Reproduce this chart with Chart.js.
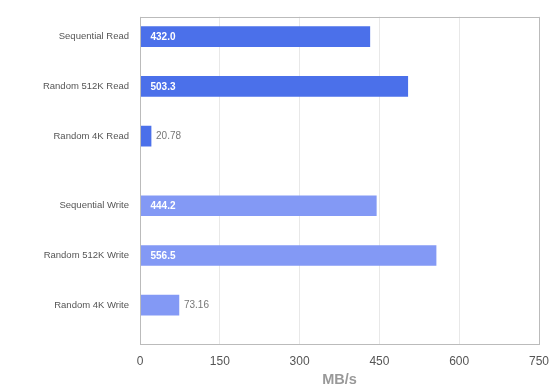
<!DOCTYPE html>
<html>
<head>
<meta charset="utf-8">
<script src="https://cdn.jsdelivr.net/npm/chart.js@4.4.0/dist/chart.umd.min.js"></script>
<style>
  html, body { margin: 0; padding: 0; background: #fff; }
  #wrap { width: 560px; height: 390px; }
</style>
</head>
<body>
<div id="wrap"><canvas id="speedChart"></canvas></div>
<script>
const labels = ['Sequential Read', 'Random 512K Read', 'Random 4K Read', 'Sequential Write', 'Random 512K Write', 'Random 4K Write'];
const groups = ['read', 'read', 'read', 'write', 'write', 'write'];
const speeds = [432.0, 503.3, 20.78, 444.2, 556.5, 73.16];
const speedText = ['432.0', '503.3', '20.78', '444.2', '556.5', '73.16'];
const xTicks = [0, 150, 300, 450, 600, 750];

const groupColor = { read: '#4b70ea', write: '#8399f5' };
const FONT = '"Liberation Sans", Arial, Helvetica, sans-serif';

// rows sit one unit apart, with a little extra room where the group changes
let shift = 0;
const rowPos = labels.map((l, i) => {
    if (i > 0 && groups[i] !== groups[i - 1]) shift += 0.4;
    return i + shift;
});

const barLabels = {
    id: 'barLabels',
    afterDatasetsDraw(chart) {
        const ctx = chart.ctx;
        const meta = chart.getDatasetMeta(0);
        ctx.save();
        ctx.textBaseline = 'middle';
        ctx.textAlign = 'left';
        meta.data.forEach((bar, i) => {
            if (bar.x - bar.base > 60) {
                ctx.font = 'bold 10px ' + FONT;
                ctx.fillStyle = '#ffffff';
                ctx.fillText(speedText[i], bar.base + 10, bar.y + 0.5);
            } else {
                ctx.font = '10px ' + FONT;
                ctx.fillStyle = '#777777';
                ctx.fillText(speedText[i], bar.x + 5, bar.y + 0.5);
            }
        });
        ctx.restore();
    }
};

const plotBox = {
    id: 'plotBox',
    afterDraw(chart) {
        const a = chart.chartArea;
        const ctx = chart.ctx;
        ctx.save();
        ctx.strokeStyle = '#bbbbbb';
        ctx.lineWidth = 1;
        ctx.strokeRect(Math.round(a.left) + 0.5, Math.round(a.top) + 0.5,
            Math.round(a.right - a.left), Math.round(a.bottom - a.top));
        ctx.restore();
    }
};

new Chart(document.getElementById('speedChart'), {
    type: 'bar',
    data: {
        datasets: [{
            data: rowPos.map((y, i) => ({ x: speeds[i], y: y })),
            backgroundColor: groups.map(g => groupColor[g]),
            barThickness: 20,
            borderWidth: 0
        }]
    },
    options: {
        indexAxis: 'y',
        responsive: true,
        maintainAspectRatio: false,
        animation: false,
        layout: { padding: { top: 15, right: 21, bottom: 0, left: 0 } },
        plugins: {
            legend: { display: false },
            tooltip: { enabled: false }
        },
        scales: {
            y: {
                type: 'linear',
                reverse: true,
                offset: false,
                min: -0.4,
                max: 6.18,
                afterBuildTicks: s => { s.ticks = rowPos.map(v => ({ value: v })); },
                afterFit: s => { s.width = 140; },
                grid: { display: false, drawTicks: false, offset: false },
                border: { display: false },
                ticks: {
                    autoSkip: false,
                    padding: 11,
                    color: '#555555',
                    font: { family: FONT, size: 9.5 },
                    callback: (v, i) => labels[i]
                }
            },
            x: {
                type: 'linear',
                min: 0,
                max: 750,
                afterBuildTicks: s => { s.ticks = xTicks.map(v => ({ value: v })); },
                afterFit: s => { s.height = 46; },
                grid: { color: '#e8e8e8', drawTicks: false },
                border: { display: false },
                ticks: {
                    padding: 10,
                    color: '#555555',
                    font: { family: FONT, size: 12 }
                },
                title: {
                    display: true,
                    text: 'MB/s',
                    color: '#999999',
                    font: { family: FONT, size: 14.5, weight: 'bold' },
                    padding: { top: 0, bottom: 1 }
                }
            }
        }
    },
    plugins: [barLabels, plotBox]
});
</script>
</body>
</html>
